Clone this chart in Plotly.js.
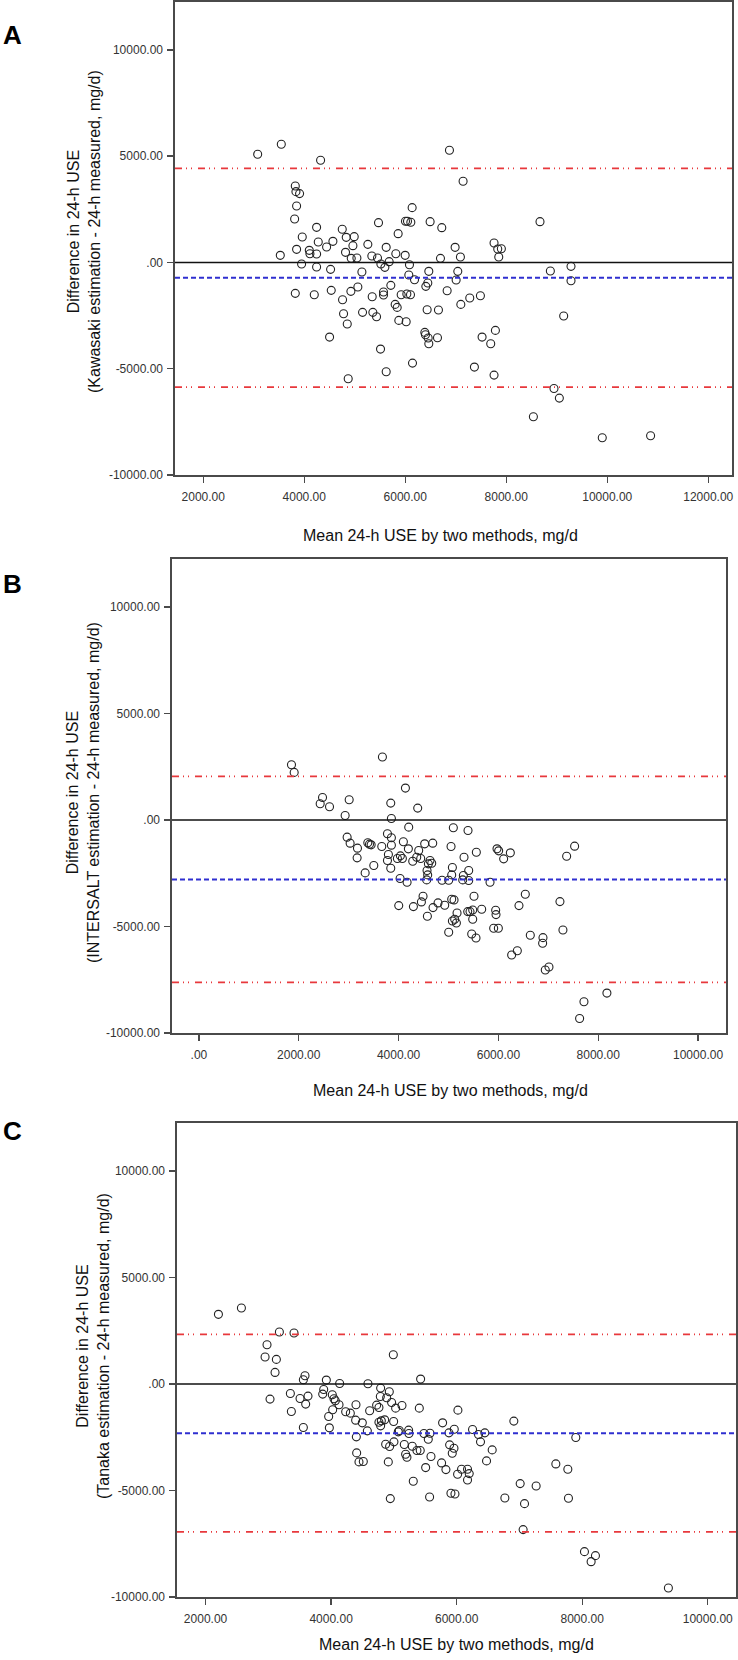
<!DOCTYPE html>
<html>
<head>
<meta charset="utf-8">
<script src="https://cdn.plot.ly/plotly-3.0.1.min.js"></script>
<style>html,body{margin:0;padding:0;background:#fff;}#chart{width:738px;height:1660px;}</style>
</head>
<body>
<div id="chart"></div>
<script>
// ---------- Data ----------
// Panel A: Kawasaki
const aX = [3077,3545,4323,6875,3822,3835,3907,3848,3809,3525,3848,3960,4244,4099,4112,4244,4277,4442,4567,3947,4244,4521,3822,4198,4534,4752,4831,4989,4817,4963,4930,5042,5141,5259,5338,5450,5517,5596,5681,5622,5813,5998,6083,6070,6183,6466,6446,6407,5470,5859,6004,6044,6110,6136,6492,6723,6987,6697,6829,6657,6433,6387,6400,6453,6466,6638,6143,5622,5510,4870,4501,4851,4778,4758,4923,5061,5154,5345,5358,5431,5569,5569,5714,5800,5840,5872,5919,6031,6103,6018,
  7145,7092,7040,7007,7100,7277,7488,8668,7758,7831,7903,7851,8873,9282,9282,9137,7521,7785,7692,7369,7758,8945,9051,8537,9901,10858];
const aY = [5085,5558,4805,5275,3596,3330,3236,2656,2044,333,615,1195,1650,568,411,396,960,725,992,-75,-217,-327,-1456,-1519,-1315,1557,1180,1211,474,788,191,207,-452,850,301,207,-75,-232,35,709,411,333,-107,-593,-813,-420,-970,-1127,1870,1352,1933,1933,1886,2577,1917,1635,709,191,-1331,-2241,-2226,-3292,-3402,-3559,-3826,-3544,-4736,-5144,-4077,-5474,-3512,-2900,-2413,-1754,-1362,-1158,-2350,-1613,-2350,-2554,-1394,-1535,-1080,-1974,-2115,-2727,-1519,-1488,-1519,-2790,
  3816,254,-421,-829,-1974,-1676,-1566,1917,914,631,646,254,-405,-185,-860,-2523,-3512,-3198,-3826,-4924,-5301,-5928,-6383,-7262,-8250,-8156];
const aMean = -720, aUpper = 4428, aLower = -5866;

// Panel B: INTERSALT
const bX = [1854,1908,3676,2476,2429,2616,3010,2929,4137,3843,4383,3856,4203,5097,2969,3029,3176,3169,3383,3417,3450,3663,3777,3856,3856,3796,3777,3843,3503,3330,4096,4196,4036,4076,3976,4283,4363,4403,4443,4523,4684,4630,4597,4664,4570,4583,4563,4030,4170,4871,5004,5051,5078,5064,4490,4457,4003,4297,4577,4690,4790,4924,5064,5111,5171,5078,5158,5004,
  5391,5311,5558,5972,6005,6105,6239,7527,7367,5298,5405,5285,5405,5832,6539,6412,7233,5511,5485,5385,5431,5665,5945,5952,5124,5485,5465,5551,5905,5999,6639,6893,6886,7293,6265,6379,6939,7013,8174,7714,7627];
const bY = [2593,2233,2954,1058,760,619,948,212,1497,791,556,71,-337,-368,-807,-1089,-1324,-1779,-1073,-1136,-1167,-1246,-650,-838,-1183,-1622,-1904,-2264,-2139,-2484,-1026,-1355,-1685,-1810,-1810,-1935,-1747,-1434,-1810,-1120,-1089,-1904,-2061,-2029,-2374,-2578,-2813,-2750,-2923,-2828,-2828,-1246,-2233,-2578,-3581,-3847,-4020,-4067,-4521,-4114,-3894,-4004,-3722,-3753,-4364,-4740,-4834,-5273,
  -494,-1747,-1512,-1355,-1449,-1826,-1543,-1230,-1700,-2609,-2374,-2813,-2844,-2923,-3487,-4020,-3832,-3581,-4223,-4302,-4302,-4192,-4239,-4443,-4662,-4662,-5351,-5539,-5085,-5085,-5414,-5524,-5790,-5163,-6339,-6136,-7045,-6904,-8126,-8533,-9316];
const bMean = -2790, bUpper = 2044, bLower = -7622;

// Panel C: Tanaka
const cX = [2205,2571,3176,3409,2979,2948,3128,3107,3584,3558,3924,4136,4587,4991,5426,3027,3351,3505,3632,3595,3367,3558,3882,3866,4019,4046,4067,4126,4025,3961,3972,4232,4306,4396,4391,4497,4577,4402,4407,4444,4513,4614,4725,4762,4789,4784,4885,4927,4964,5028,5129,4762,4800,4853,4996,4789,5070,5086,5001,4869,4932,4911,4943,5166,5187,5208,5235,5240,5293,5367,5420,5309,5405,5479,5548,5575,5591,5506,5569,5776,5877,5962,5888,5930,5957,5760,5829,5909,5973,6020,6015,
  6911,6253,6348,6449,6380,6566,6476,7898,7580,7771,6078,6173,6200,6173,7012,7266,6768,7081,7781,7059,8036,8211,8142,9373];
const cY = [3269,3567,2440,2393,1842,1263,1153,542,386,198,182,25,9,1373,229,-711,-445,-680,-570,-946,-1291,-2043,-257,-476,-508,-696,-790,-978,-1213,-1527,-2059,-1307,-1370,-978,-1699,-1825,-2201,-2483,-3235,-3658,-3643,-1260,-994,-1103,-194,-586,-649,-367,-868,-1135,-1010,-1794,-1731,-1684,-1762,-1966,-2247,-2185,-2718,-2828,-2937,-3658,-5382,-2843,-3298,-3439,-2169,-2326,-2922,-3126,-3126,-4567,-1135,-2326,-2593,-2311,-3408,-3925,-5304,-1825,-2295,-2123,-2859,-3251,-3016,-3706,-4020,-5132,-5163,-1229,-4238,
  -1744,-2138,-2373,-2295,-2718,-3094,-3611,-2515,-3753,-4004,-4004,-4004,-4208,-4505,-4677,-4787,-5351,-5617,-5367,-6837,-7871,-8059,-8341,-9580];
const cMean = -2310, cUpper = 2326, cLower = -6946;

// Tick values / labels
const yTickVals = [-10000,-5000,0,5000,10000];
const yTickText = ['-10000.00','-5000.00','.00','5000.00','10000.00'];
const aXTickVals = [2000,4000,6000,8000,10000,12000];
const aXTickText = ['2000.00','4000.00','6000.00','8000.00','10000.00','12000.00'];
const bXTickVals = [0,2000,4000,6000,8000,10000];
const bXTickText = ['.00','2000.00','4000.00','6000.00','8000.00','10000.00'];
const cXTickVals = [2000,4000,6000,8000,10000];
const cXTickText = ['2000.00','4000.00','6000.00','8000.00','10000.00'];

const letters = ['A','B','C'];
const yTitles = ['Difference in 24-h USE<br>(Kawasaki estimation - 24-h measured, mg/d)',
                 'Difference in 24-h USE<br>(INTERSALT estimation - 24-h measured, mg/d)',
                 'Difference in 24-h USE<br>(Tanaka estimation - 24-h measured, mg/d)'];
const xTitle = 'Mean 24-h USE by two methods, mg/d';

// ---------- Layout geometry (pixels) ----------
const W = 738, H = 1660;
const FONT = 'Liberation Sans, Arial, sans-serif';
const panels = [
  {xs:aX, ys:aY, mean:aMean, up:aUpper, lo:aLower, l:175, r:732, t:2,    b:475,  xr:[1440,12470], tv:aXTickVals, tt:aXTickText,
   letter:[12,35], ytitle:[84,232], xtitle:[440,535]},
  {xs:bX, ys:bY, mean:bMean, up:bUpper, lo:bLower, l:172, r:726, t:559,  b:1033, xr:[-540,10560], tv:bXTickVals, tt:bXTickText,
   letter:[12,584], ytitle:[83,793], xtitle:[450,1090]},
  {xs:cX, ys:cY, mean:cMean, up:cUpper, lo:cLower, l:177, r:736, t:1123, b:1597, xr:[1545,10450], tv:cXTickVals, tt:cXTickText,
   letter:[12,1131], ytitle:[93,1346], xtitle:[456,1644]}
];
const yRange = [-10000, 12250];

const traces = [];
const shapes = [];
const annotations = [];
const layout = {
  width: W, height: H,
  margin: {l:0, r:0, t:0, b:0},
  paper_bgcolor: '#fff', plot_bgcolor: '#fff',
  showlegend: false,
  font: {family: FONT, color: '#222'}
};

const axisCommon = {
  showline: true, mirror: true, linecolor: '#4a4a4a', linewidth: 1.6,
  ticks: 'outside', ticklen: 6, tickwidth: 1.4, tickcolor: '#4a4a4a',
  showgrid: false, zeroline: false,
  tickfont: {family: FONT, size: 12, color: '#333'}
};

panels.forEach((p, i) => {
  const n = i === 0 ? '' : String(i + 1);
  const xa = 'x' + n, ya = 'y' + n;
  layout['xaxis' + n] = Object.assign({}, axisCommon, {
    domain: [p.l / W, p.r / W], range: p.xr, anchor: ya,
    tickmode: 'array', tickvals: p.tv, ticktext: p.tt, ticklabelstandoff: 4
  });
  layout['yaxis' + n] = Object.assign({}, axisCommon, {
    domain: [1 - p.b / H, 1 - p.t / H], range: yRange, anchor: xa,
    tickmode: 'array', tickvals: yTickVals, ticktext: yTickText, ticklabelstandoff: 2
  });

  traces.push({
    type: 'scatter', mode: 'markers', x: p.xs, y: p.ys, xaxis: xa, yaxis: ya,
    marker: {symbol: 'circle-open', size: 8, color: '#222', line: {width: 1.1, color: '#222'}},
    hoverinfo: 'x+y'
  });

  const xd = xa + ' domain';
  shapes.push({type:'line', xref:xd, yref:ya, x0:0, x1:1, y0:0, y1:0, line:{color:'#111', width:1.5}});
  shapes.push({type:'line', xref:xd, yref:ya, x0:0, x1:1, y0:p.mean, y1:p.mean, line:{color:'#2f2fd0', width:2, dash:'5px,3px'}});
  [p.up, p.lo].forEach(v => {
    shapes.push({type:'line', xref:xd, yref:ya, x0:0, x1:1, y0:v, y1:v, line:{color:'#e8383c', width:1.8, dash:'7px,4px,1px,4px,1px,6px'}});
  });

  annotations.push({text: '<b>' + letters[i] + '</b>', xref:'paper', yref:'paper',
    x: p.letter[0] / W, y: 1 - p.letter[1] / H, xanchor:'center', yanchor:'middle',
    showarrow:false, font:{family: FONT, size: 26, color:'#000'}});
  annotations.push({text: yTitles[i], xref:'paper', yref:'paper',
    x: p.ytitle[0] / W, y: 1 - p.ytitle[1] / H, xanchor:'center', yanchor:'middle', textangle:-90,
    showarrow:false, font:{family: FONT, size: 16, color:'#111'}});
  annotations.push({text: xTitle, xref:'paper', yref:'paper',
    x: p.xtitle[0] / W, y: 1 - p.xtitle[1] / H, xanchor:'center', yanchor:'middle',
    showarrow:false, font:{family: FONT, size: 16, color:'#111'}});
});

layout.shapes = shapes;
layout.annotations = annotations;

Plotly.newPlot('chart', traces, layout, {staticPlot: true, displayModeBar: false});
</script>
</body>
</html>
